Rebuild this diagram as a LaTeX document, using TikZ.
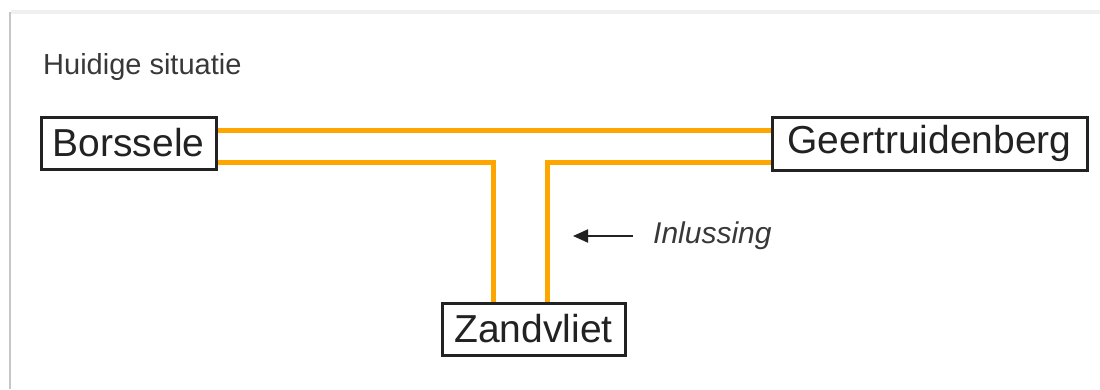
\documentclass[tikz,border=0pt]{standalone}
\usepackage{fontspec}
\setmainfont{Liberation Sans}
\usetikzlibrary{arrows.meta}
\definecolor{line}{HTML}{FFA500}
\definecolor{txt}{HTML}{222222}
\tikzset{
  station/.style={draw=txt, line width=3pt, fill=white, inner sep=0pt, text=txt,
    font=\fontsize{39}{45}\selectfont, anchor=center},
  cable/.style={draw=line, line width=5pt},
}
\begin{document}
\begin{tikzpicture}[x=1pt,y=-1pt]
\useasboundingbox[fill=white] (0,0) rectangle (1100,389);
% frame
\draw[gray!12, line width=4pt] (11,12) -- (1100,12);
\draw[gray!45, line width=2pt] (10,12) -- (10,389);
% title
\node[anchor=base west, text=txt!90, font=\fontsize{29}{34}\selectfont, inner sep=0pt] (title) at (43,74) {Huidige situatie};
% stations
\node[station, minimum width=175pt, minimum height=52pt] (bor) at (128.5,143) {Borssele};
\node[station, minimum width=315pt, minimum height=53pt] (ger) at (929.5,143.5) {Geertruidenberg};
\node[station, minimum width=183pt, minimum height=52pt] (zan) at (533.5,329) {Zandvliet};
% level coordinates
\coordinate (yA) at (0,130);
\coordinate (yB) at (0,162);
\coordinate (xL) at (493,0);
\coordinate (xR) at (547,0);
% cables
\draw[cable] (bor.east |- yA) -- (ger.west |- yA);
\draw[cable] (bor.east |- yB) -- (xL |- yB) -- (xL |- zan.north);
\draw[cable] (ger.west |- yB) -- (xR |- yB) -- (xR |- zan.north);
% label and arrow
\node[anchor=west, inner sep=0pt, text=txt!90, font=\fontsize{30}{34}\selectfont\itshape] (inl) at (653,236) {Inlussing};
\coordinate (tip) at (573,236);
\draw[txt, line width=2pt, -{Triangle[length=15pt,width=13pt]}] ([xshift=-20pt]inl.west) -- (tip);
\end{tikzpicture}
\end{document}
